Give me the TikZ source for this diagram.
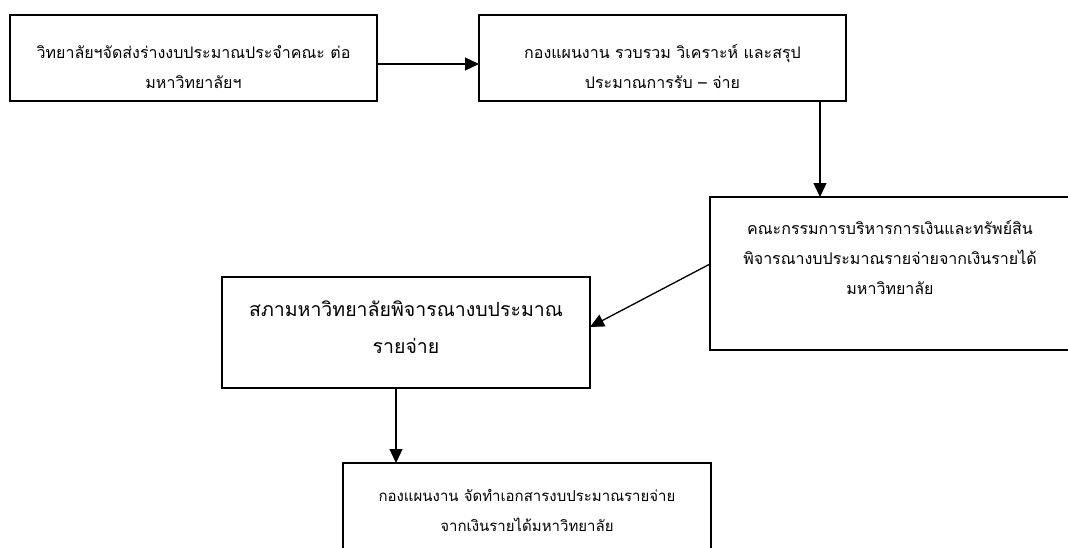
\documentclass[tikz,border=0pt]{standalone}
\usepackage{fontspec}
\newfontfamily\thaifont[Script=Thai]{Loma}
\usetikzlibrary{arrows.meta}

\begin{document}
\begin{tikzpicture}[%
        x=1pt, y=-1pt,
        mybox/.style={draw, line width=1.6pt, inner sep=0pt, outer sep=0pt,
            align=center, font=\thaifont\fontsize{16}{30}\selectfont},
        myarrow/.style={line width=1.3pt,
            -{Triangle[length=14pt,width=13pt]}}
    ]
        \useasboundingbox (0,0) rectangle (1068,547);

        % the five steps
        \node [mybox, minimum width=367pt, minimum height=86pt,
            text height=66pt, text depth=6pt] (college)
            at (193.5,58) {วิทยาลัยฯจัดส่งร่างงบประมาณประจำคณะ ต่อ\\มหาวิทยาลัยฯ};
        \node [mybox, minimum width=367pt, minimum height=86pt,
            text height=66pt, text depth=6pt] (plan)
            at (662.5,58) {กองแผนงาน รวบรวม วิเคราะห์ และสรุป\\ประมาณการรับ – จ่าย};
        \node [mybox, minimum width=360pt, minimum height=153pt,
            text height=64pt, text depth=23pt] (board)
            at (890,273.5) {คณะกรรมการบริหารการเงินและทรัพย์สิน\\
                พิจารณางบประมาณรายจ่ายจากเงินรายได้\\มหาวิทยาลัย};
        \node [mybox, minimum width=368pt, minimum height=111pt,
            text height=61pt, text depth=19pt,
            font=\thaifont\fontsize{19.5}{37}\selectfont] (council)
            at (406,332.5) {สภามหาวิทยาลัยพิจารณางบประมาณ\\รายจ่าย};
        \node [mybox, minimum width=368pt, minimum height=86pt,
            text height=60pt, text depth=10pt,
            font=\thaifont\fontsize{15}{30}\selectfont] (doc)
            at (527,506) {กองแผนงาน จัดทำเอกสารงบประมาณรายจ่าย\\จากเงินรายได้มหาวิทยาลัย};

        % flow
        \draw [myarrow] ([yshift=-6pt]college.east) -- ([yshift=-6pt]plan.west);
        \draw [myarrow] (plan.south -| 820,0) -- (board.north -| 820,0);
        \draw [myarrow] ([yshift=9.5pt]board.west) -- ([yshift=5.5pt]council.east);
        \draw [myarrow] (council.south -| 396,0) -- (doc.north -| 396,0);
    \end{tikzpicture}
\end{document}
